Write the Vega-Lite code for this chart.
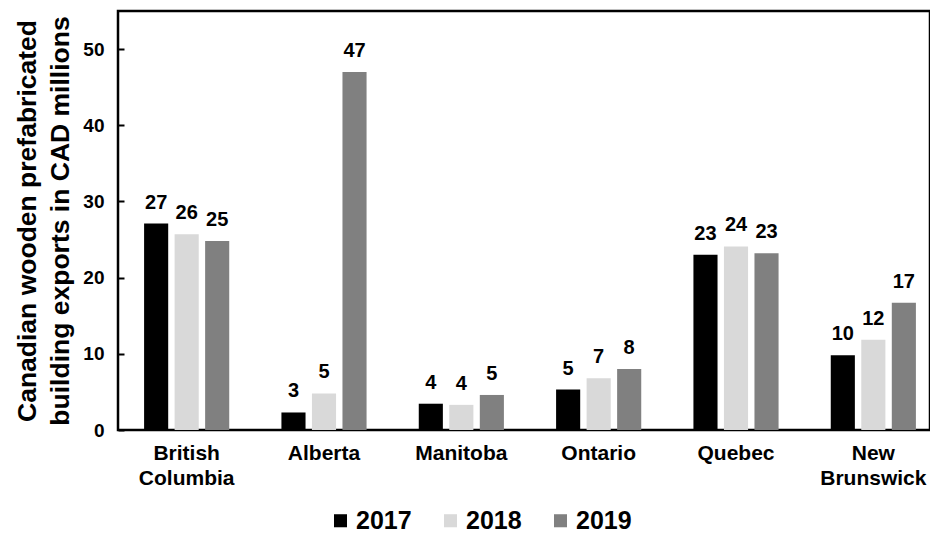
{
  "$schema": "https://vega.github.io/schema/vega-lite/v6.json",
  "autosize": "none",
  "width": 812,
  "height": 419,
  "padding": {"left": 118, "top": 11, "right": 0, "bottom": 103},
  "background": "white",
  "config": {
    "font": "Liberation Sans",
    "view": {"stroke": "black", "strokeWidth": 2.5}
  },
  "data": {
    "values": [
      {"province": "British Columbia", "year": "2017", "value": 27.1, "label": "27"},
      {"province": "British Columbia", "year": "2018", "value": 25.7, "label": "26"},
      {"province": "British Columbia", "year": "2019", "value": 24.8, "label": "25"},
      {"province": "Alberta", "year": "2017", "value": 2.3, "label": "3"},
      {"province": "Alberta", "year": "2018", "value": 4.8, "label": "5"},
      {"province": "Alberta", "year": "2019", "value": 47.0, "label": "47"},
      {"province": "Manitoba", "year": "2017", "value": 3.45, "label": "4"},
      {"province": "Manitoba", "year": "2018", "value": 3.3, "label": "4"},
      {"province": "Manitoba", "year": "2019", "value": 4.6, "label": "5"},
      {"province": "Ontario", "year": "2017", "value": 5.3, "label": "5"},
      {"province": "Ontario", "year": "2018", "value": 6.8, "label": "7"},
      {"province": "Ontario", "year": "2019", "value": 8.0, "label": "8"},
      {"province": "Quebec", "year": "2017", "value": 23.0, "label": "23"},
      {"province": "Quebec", "year": "2018", "value": 24.1, "label": "24"},
      {"province": "Quebec", "year": "2019", "value": 23.2, "label": "23"},
      {"province": "New Brunswick", "year": "2017", "value": 9.8, "label": "10"},
      {"province": "New Brunswick", "year": "2018", "value": 11.85, "label": "12"},
      {"province": "New Brunswick", "year": "2019", "value": 16.7, "label": "17"}
    ]
  },
  "encoding": {
    "x": {
      "field": "province",
      "type": "nominal",
      "sort": null,
      "scale": {"range": [0, 824], "paddingInner": 0.38, "paddingOuter": 0.19},
      "axis": {
        "title": null,
        "domain": false,
        "ticks": false,
        "labelAngle": 0,
        "labelFont": "Liberation Sans",
        "labelFontWeight": "bold",
        "labelFontSize": 21,
        "labelColor": "black",
        "labelLineHeight": 25,
        "labelPadding": 12,
        "labelExpr": "split(datum.label, ' ')"
      }
    },
    "xOffset": {
      "field": "year",
      "type": "nominal",
      "scale": {"paddingInner": 0.21, "paddingOuter": 0}
    },
    "y": {
      "field": "value",
      "type": "quantitative",
      "scale": {"domain": [0, 55], "nice": false},
      "axis": {
        "values": [0, 10, 20, 30, 40, 50],
        "grid": false,
        "domain": false,
        "tickColor": "black",
        "tickWidth": 2,
        "tickSize": -6,
        "labelFont": "Liberation Sans",
        "labelFontWeight": "bold",
        "labelFontSize": 19,
        "labelColor": "black",
        "labelPadding": 20,
        "title": ["Canadian wooden prefabricated", "building exports in CAD millions"],
        "titleFont": "Liberation Sans",
        "titleFontWeight": "bold",
        "titleFontSize": 26.5,
        "titleLineHeight": 33,
        "titleColor": "black",
        "titlePadding": 8
      }
    }
  },
  "layer": [
    {
      "mark": {"type": "bar"},
      "encoding": {
        "color": {
          "field": "year",
          "type": "nominal",
          "scale": {"domain": ["2017", "2018", "2019"], "range": ["#000000", "#d9d9d9", "#808080"]},
          "legend": {
            "title": null,
            "orient": "none",
            "direction": "horizontal",
            "legendX": 210,
            "legendY": 497,
            "padding": 0,
            "symbolType": "square",
            "symbolSize": 170,
            "symbolStrokeWidth": 0,
            "labelFont": "Liberation Sans",
            "labelFontWeight": "bold",
            "labelFontSize": 25,
            "labelColor": "black",
            "labelOffset": 3,
            "columnPadding": 26
          }
        }
      }
    },
    {
      "mark": {
        "type": "text",
        "font": "Liberation Sans",
        "fontWeight": "bold",
        "fontSize": 20,
        "color": "black",
        "baseline": "alphabetic",
        "dy": -15
      },
      "encoding": {"text": {"field": "label"}}
    }
  ]
}
